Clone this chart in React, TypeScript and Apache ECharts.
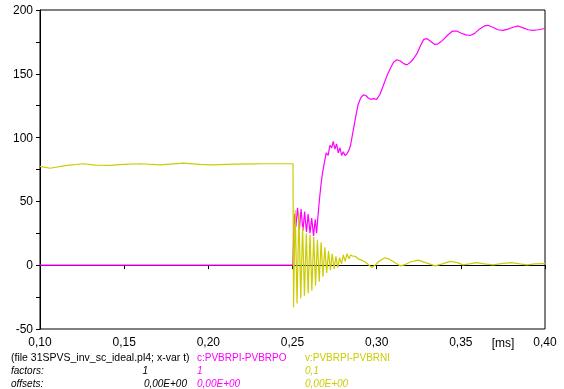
import React, { useEffect, useRef } from "react";
import * as echarts from "echarts";

const xTickLabels = ["0,10", "0,15", "0,20", "0,25", "0,30", "0,35", "0,40"];

const cTime = [
  0.1, 0.2502, 0.2507, 0.2512, 0.252, 0.253, 0.2541, 0.2551, 0.2562, 0.2572, 0.2583, 0.2593, 0.2604,
  0.2614, 0.2625, 0.2635, 0.2643, 0.2648, 0.2655, 0.2662, 0.267, 0.2678, 0.2686, 0.2693, 0.27, 0.2712,
  0.2722, 0.2733, 0.2742, 0.2752, 0.2762, 0.2772, 0.2782, 0.2792, 0.2802, 0.2812, 0.2822, 0.2835,
  0.2845, 0.286, 0.2875, 0.289, 0.2905, 0.292, 0.2935, 0.295, 0.2965, 0.298, 0.3, 0.302, 0.304, 0.306,
  0.308, 0.31, 0.312, 0.314, 0.316, 0.318, 0.32, 0.322, 0.324, 0.326, 0.328, 0.33, 0.332, 0.3345, 0.3365,
  0.339, 0.342, 0.345, 0.3475, 0.35, 0.353, 0.3555, 0.358, 0.361, 0.364, 0.366, 0.369, 0.372, 0.375,
  0.378, 0.381, 0.384, 0.387, 0.39, 0.393, 0.396, 0.4,
];
const cValues = [
  0, 0, 25, 40, 30, 45, 28, 44, 27, 42, 26, 40, 25,
  37, 23, 36, 25, 33, 44, 54, 64, 72, 78, 83, 88, 86,
  94, 92, 97, 91, 95, 88, 92, 86, 89, 86, 87, 90,
  94, 105, 116, 126, 131, 133.5, 133, 131, 130, 130.5, 130, 134, 141, 148,
  154, 159, 161, 160, 158, 157, 159, 162, 166, 172, 177, 177.5, 175.5, 173, 173.5,
  176, 180, 183.5, 183.5, 182, 180.5, 180, 181.5, 185, 187.5, 188, 186.5, 184.5, 184,
  185, 186.5, 187.5, 186, 184.5, 184, 184.5, 185.5,
];

const vTime = [
  0.1, 0.1059, 0.115, 0.1256, 0.133, 0.1416, 0.15, 0.1594, 0.1713, 0.185, 0.195, 0.2028, 0.215, 0.2307,
  0.24, 0.2503, 0.2506, 0.2516, 0.2527, 0.2538, 0.2549, 0.256, 0.2571, 0.2582, 0.2593, 0.2604, 0.2615,
  0.2626, 0.2637, 0.2648, 0.2659, 0.267, 0.2681, 0.2692, 0.2703, 0.2714, 0.2725, 0.2736, 0.2747, 0.2758,
  0.2769, 0.278, 0.2791, 0.2802, 0.2813, 0.2824, 0.2835, 0.2846, 0.286, 0.2872, 0.289, 0.291, 0.2931,
  0.295, 0.2971, 0.299, 0.301, 0.303, 0.305, 0.307, 0.309, 0.3115, 0.3139, 0.317, 0.32, 0.3246, 0.329,
  0.3347, 0.339, 0.3436, 0.348, 0.3513, 0.355, 0.3595, 0.364, 0.3692, 0.375, 0.3803, 0.385, 0.3892,
  0.394, 0.3989, 0.4,
];
const vValues = [
  77.5, 76, 78, 79.5, 78.5, 78.3, 79, 79.5, 78.7, 80, 79, 78.7, 79.2, 79.5,
  79.5, 79.5, -33, 43, -30, 41, -26, 30, -24, 25, -22, 24, -20,
  22, -16, 20, -13, 18, -9, 14, -6, 11, -4, 9, -3, 7,
  -2, 6, 1, 8, 3, 9, 5, 8, 7, 7, 5, 4, 2.5,
  0.5, -1.8, 0, 2.5, 4.5, 5.8, 5, 3.5, 1.5, -0.5, 0.5, 2.5, 4, 2,
  -0.5, 1, 3, 2, 0.3, 1, 2, 1, 0.3, 1.5, 2, 1, 0.3,
  1, 1.3, 1.3,
];

const legendHeader = "(file 31SPVS_inv_sc_ideal.pl4; x-var t)";
const cName = "c:PVBRPI-PVBRPO";
const vName = "v:PVBRPI-PVBRNI";
const factorLabels = ["1", "1", "0,1"];
const offsetLabels = ["0,00E+00", "0,00E+00", "0,00E+00"];

const MAGENTA = "#ff00ff";
const YELLOW = "#cccc00";
const FONT = "Liberation Sans";

export default function App() {
  const ref = useRef<HTMLDivElement>(null);
  useEffect(() => {
    if (!ref.current) return;
    const chart = echarts.init(ref.current, null, { renderer: "svg" });
    const cData = cTime.map((t, i) => [t, cValues[i]]);
    const vData = vTime.map((t, i) => [t, vValues[i]]);
    const txt = (x: number, y: number, text: string, fill: string, italic = false, align = "left", size = 10) => ({
      type: "text",
      x,
      y,
      style: {
        text,
        fill,
        font: `${italic ? "italic " : ""}${size}px "${FONT}"`,
        textAlign: align,
        textVerticalAlign: "middle",
      },
    });
    chart.setOption({
      animation: false,
      grid: {
        left: 40,
        right: 19,
        top: 10,
        bottom: 60,
        show: true,
        borderColor: "#000",
        borderWidth: 1,
      },
      xAxis: {
        type: "value",
        min: 0.1,
        max: 0.4,
        interval: 0.05,
        axisLine: { show: true, lineStyle: { color: "#000", width: 1 } },
        axisTick: { show: true, inside: false, length: 4, lineStyle: { color: "#000" } },
        splitLine: { show: false },
        axisLabel: {
          color: "#000",
          fontFamily: FONT,
          fontSize: 12,
          margin: 7,
          formatter: (v: number) => {
            const idx = Math.round((v - 0.1) / 0.05);
            return xTickLabels[idx] ?? "";
          },
        },
      },
      yAxis: {
        type: "value",
        min: -50,
        max: 200,
        interval: 25,
        axisLine: { show: true, lineStyle: { color: "#000", width: 1 } },
        axisTick: { show: true, inside: false, length: 4, lineStyle: { color: "#000" } },
        splitLine: { show: false },
        axisLabel: {
          color: "#000",
          fontFamily: FONT,
          fontSize: 12,
          margin: 7,
          formatter: (v: number) => (v % 50 === 0 ? String(v) : ""),
        },
      },
      series: [
        {
          type: "line",
          data: cData,
          showSymbol: false,
          lineStyle: { color: MAGENTA, width: 1.2 },
          itemStyle: { color: MAGENTA },
        },
        {
          type: "line",
          data: vData,
          showSymbol: false,
          lineStyle: { color: YELLOW, width: 1.2 },
          itemStyle: { color: YELLOW },
        },
      ],
      graphic: [
        {
          type: "text",
          x: 503,
          y: 343,
          style: { text: "[ms]", fill: "#000", font: `12px "${FONT}"`, textAlign: "center", textVerticalAlign: "middle" },
        },
        txt(11, 357, legendHeader, "#000", false, "left", 10.5),
        txt(197, 357, cName, MAGENTA),
        txt(305, 357, vName, YELLOW),
        txt(11, 370, "factors:", "#000", true),
        txt(148, 370, factorLabels[0], "#000", true, "right"),
        txt(197, 370, factorLabels[1], MAGENTA, true),
        txt(305, 370, factorLabels[2], YELLOW, true),
        txt(11, 383, "offsets:", "#000", true),
        txt(187, 383, offsetLabels[0], "#000", true, "right"),
        txt(197, 383, offsetLabels[1], MAGENTA, true),
        txt(305, 383, offsetLabels[2], YELLOW, true),
      ],
    });
    return () => chart.dispose();
  }, []);
  return <div ref={ref} style={{ position: "fixed", left: 0, top: 0, width: 564, height: 389 }} />;
}
